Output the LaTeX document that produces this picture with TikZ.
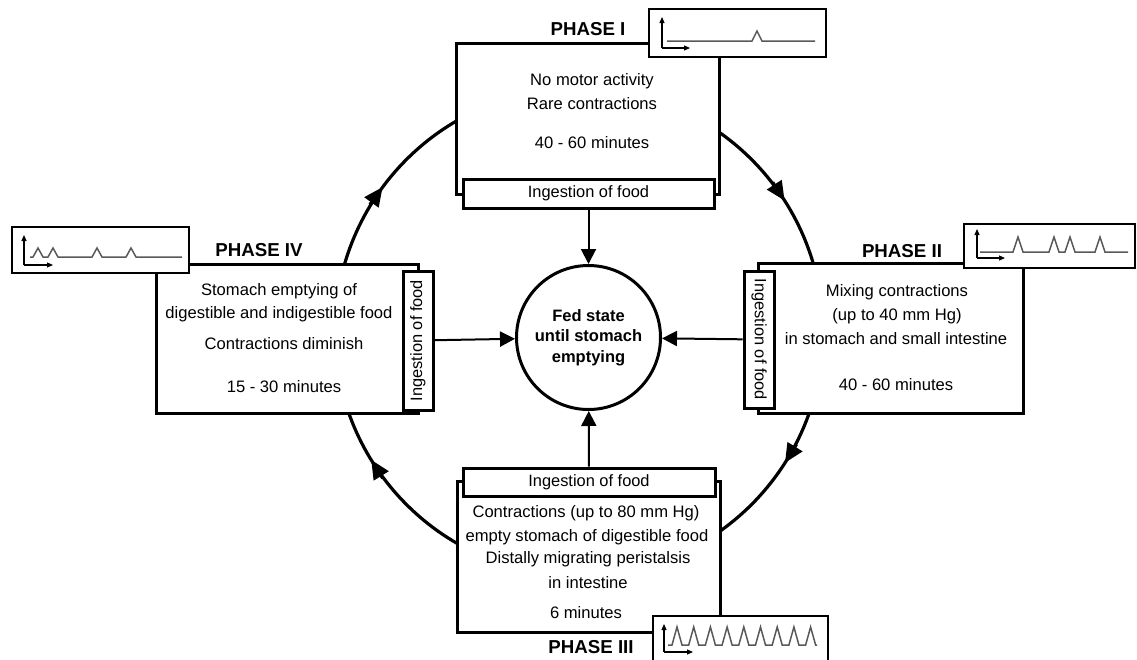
\documentclass[tikz,border=0pt]{standalone}
\usepackage{fontspec}
\setmainfont{Liberation Sans}
\usetikzlibrary{arrows.meta}
\begin{document}
\begin{tikzpicture}[x=1pt,y=-1pt,
  phasebox/.style={draw, line width=3pt, fill=white, inner sep=0pt},
  ingbox/.style={draw, line width=3pt, fill=white, inner sep=0pt, font=\fontsize{16.4}{19}\selectfont},
  graphbox/.style={draw, line width=1.8pt, fill=white, inner sep=0pt},
  txt/.style={font=\fontsize{16.6}{19}\selectfont, anchor=base, inner sep=0pt},
  phaselabel/.style={font=\bfseries\fontsize{18.7}{22}\selectfont, anchor=base, inner sep=0pt},
  ring/.style={line width=3.2pt},
  ringtip/.style={line width=3.2pt, -{Triangle[width=17pt,length=19pt]}},
  feed/.style={line width=2pt, -{Triangle[width=15pt,length=15pt]}},
  sig/.style={draw=black!65, line width=1.5pt, line join=miter},
  ax/.style={line width=1.1pt, -{Triangle[width=5pt,length=6pt]}},
  fedcircle/.style={draw, circle, line width=3pt, fill=white, minimum size=144pt, inner sep=0pt, align=center, font=\bfseries\fontsize{16.5}{20.5}\selectfont}
]
\useasboundingbox (0,0) rectangle (1137,659);

% outer cycle
\coordinate (cc) at (579,332);
\draw[ring] (cc) circle[radius=244];
\coordinate (trA) at (772.7,182.3); \coordinate (trB) at (784.6,200.6);
\coordinate (brA) at (796.5,444.3); \coordinate (brB) at (785.0,462.8);
\coordinate (blA) at (382.7,478.3); \coordinate (blB) at (371.2,459.8);
\coordinate (tlA) at (369.8,204.7); \coordinate (tlB) at (382.6,187.1);
\draw[ringtip] (trA) -- (trB);
\draw[ringtip] (brA) -- (brB);
\draw[ringtip] (blA) -- (blB);
\draw[ringtip] (tlA) -- (tlB);

% phase boxes
\node[phasebox, minimum width=263pt, minimum height=151pt] (p1) at (587.5,118.5) {};
\node[phasebox, minimum width=265pt, minimum height=150pt] (p2) at (890.5,338) {};
\node[phasebox, minimum width=262pt, minimum height=149pt] (p4) at (287,338.5) {};
\node[phasebox, minimum width=263pt, minimum height=151pt] (p3) at (588.5,556.5) {};

% ingestion boxes
\node[ingbox, minimum width=251pt, minimum height=29pt] (i1) at (588.5,193.5) {Ingestion of food};
\node[ingbox, minimum width=252pt, minimum height=28pt] (i3) at (589,482) {Ingestion of food};
\node[ingbox, rotate=-90, minimum width=137pt, minimum height=30pt] (i2) at (759,339.5) {Ingestion of food};
\node[ingbox, rotate=90, minimum width=139pt, minimum height=30pt] (i4) at (418,340.5) {Ingestion of food};

% graph boxes
\node[graphbox, minimum width=177pt, minimum height=48pt] (g1) at (737.5,33) {};
\node[graphbox, minimum width=171pt, minimum height=44pt] (g2) at (1049.5,246) {};
\node[graphbox, minimum width=177pt, minimum height=46pt] (g4) at (100.5,250) {};
\node[graphbox, minimum width=175pt, minimum height=46pt] (g3) at (740.5,639) {};

% graph I
\draw[ax] (662,48) -- (662,17);
\draw[ax] (662,48) -- (690,48);
\draw[sig] (667,41) -- (752,41) -- (757,31) -- (762,41) -- (815,41);
% graph II
\draw[ax] (977,258) -- (977,229);
\draw[ax] (977,258) -- (1005,258);
\draw[sig] (980,252) -- (1013,252) -- (1018,237) -- (1023,252) -- (1049,252) -- (1054,237) -- (1059,252)
  -- (1065,252) -- (1070,237) -- (1075,252) -- (1095,252) -- (1100,237) -- (1105,252) -- (1128,252);
% graph IV
\draw[ax] (24,265) -- (24,235);
\draw[ax] (24,265) -- (53,265);
\draw[sig] (30,257) -- (33,257) -- (38,248) -- (43,257) -- (48,257) -- (53,248) -- (58,257) -- (92,257)
  -- (97,248) -- (102,257) -- (126,257) -- (131,248) -- (136,257) -- (182,257);
% graph III
\draw[ax] (664,652) -- (664,624);
\draw[ax] (664,652) -- (693,652);
\draw[sig] (668,645) foreach \k in {0,...,8} { -- ({672+16.7*\k},645) -- ({677+16.7*\k},627) -- ({682+16.7*\k},645) } -- (817,645);

% phase labels
\node[phaselabel] (l1) at (588,35) {PHASE I};
\node[phaselabel] (l2) at (902,257) {PHASE II};
\node[phaselabel] (l4) at (259,256) {PHASE IV};
\node[phaselabel] (l3) at (591,653) {PHASE III};

% texts phase I
\node[txt] (t1a) at (592,85) {No motor activity};
\node[txt] (t1b) at (592,109) {Rare contractions};
\node[txt] (t1c) at (592,148) {40 - 60 minutes};
% texts phase II
\node[txt] (t2a) at (897,296) {Mixing contractions};
\node[txt] (t2b) at (897,320) {(up to 40 mm Hg)};
\node[txt] (t2c) at (896,344) {in stomach and small intestine};
\node[txt] (t2d) at (896,390) {40 - 60 minutes};
% texts phase IV
\node[txt] (t4a) at (279,295) {Stomach emptying of};
\node[txt] (t4b) at (279,318) {digestible and indigestible food};
\node[txt] (t4c) at (284,349) {Contractions diminish};
\node[txt] (t4d) at (284,392) {15 - 30 minutes};
% texts phase III
\node[txt] (t3a) at (586,517) {Contractions (up to 80 mm Hg)};
\node[txt] (t3b) at (587,541) {empty stomach of digestible food};
\node[txt] (t3c) at (588,563) {Distally migrating peristalsis};
\node[txt] (t3d) at (588,588) {in intestine};
\node[txt] (t3e) at (586,618) {6 minutes};

% centre
\node[fedcircle] (fed) at (588.5,337.5) {Fed state\\until stomach\\emptying};
\draw[feed] (i1) -- (fed);
\draw[feed] (i3) -- (fed);
\draw[feed] (i2) -- (fed);
\draw[feed] (i4) -- (fed);
\end{tikzpicture}
\end{document}
